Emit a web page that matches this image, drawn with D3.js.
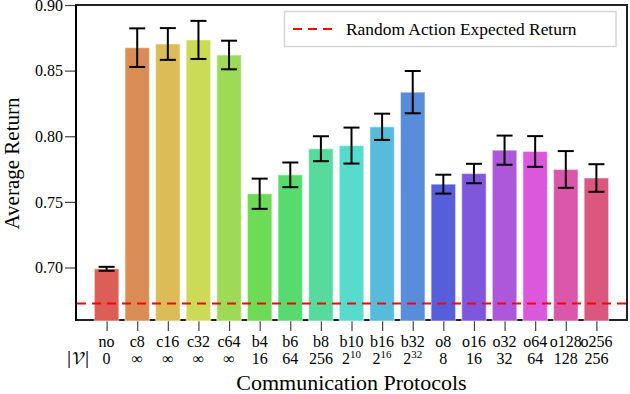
<!DOCTYPE html>
<html><head><meta charset="utf-8">
<script src="https://cdn.jsdelivr.net/npm/d3@7"></script>
<style>body{margin:0;background:#fff}svg{display:block}text{font-family:"Liberation Serif","Times New Roman",serif;fill:#000}</style>
</head><body><svg id="c" width="630" height="394"></svg>
<script>
const categories = ["no","c8","c16","c32","c64","b4","b6","b8","b10","b16","b32","o8","o16","o32","o64","o128","o256"];
const vocab = [["0"],["∞"],["∞"],["∞"],["∞"],["16"],["64"],["256"],["2","10"],["2","16"],["2","32"],["8"],["16"],["32"],["64"],["128"],["256"]];
const means = [0.699,0.8675,0.8703,0.8734,0.8619,0.7562,0.7706,0.7905,0.7929,0.8072,0.8336,0.7635,0.7716,0.7894,0.7884,0.7747,0.7682];
const errs  = [0.0015,0.0147,0.0121,0.0145,0.0109,0.0115,0.0094,0.0095,0.0137,0.0100,0.0161,0.0072,0.0074,0.0111,0.0117,0.0140,0.0105];
const randomReturn = 0.6725;
const yTicks = [0.70,0.75,0.80,0.85,0.90];

const svg = d3.select("#c");
const L=76,R=627,T=5,B=320;
const x = d3.scalePoint().domain(categories).range([L,R]).padding(1);
const y = d3.scaleLinear().domain([0.66,0.90]).range([B,T]);
const step = x.step(), bw = step*0.8;
const color = i => d3.hsl(((0.01 + i/categories.length)%1)*360, 0.65, 0.6).formatHex();

// y axis
const ya = svg.append("g").attr("transform",`translate(${L},0)`)
  .call(d3.axisLeft(y).tickValues(yTicks).tickFormat(d3.format(".2f")).tickSize(11).tickPadding(2));
ya.select(".domain").remove();
ya.selectAll(".tick line").attr("stroke","#444").attr("stroke-width",1.2);
ya.selectAll(".tick text").attr("font-family",null).style("font-family","'Liberation Serif'").style("font-size","16px");

// x axis ticks
const xa = svg.append("g").attr("transform",`translate(0,${B})`)
  .call(d3.axisBottom(x).tickSize(11).tickFormat(""));
xa.select(".domain").remove();
xa.selectAll(".tick line").attr("stroke","#444").attr("stroke-width",1.2);

// frame
svg.append("rect").attr("x",L).attr("y",T).attr("width",R-L).attr("height",B-T)
  .attr("fill","none").attr("stroke","#222").attr("stroke-width",2);
svg.append("line").attr("x1",L).attr("x2",L).attr("y1",T).attr("y2",B+1).attr("stroke","#000").attr("stroke-width",2);

// bars
svg.append("g").selectAll("rect").data(categories).join("rect")
  .attr("x",d=>x(d)-bw/2).attr("width",bw)
  .attr("y",(d,i)=>y(means[i])).attr("height",(d,i)=>B+1-y(means[i]))
  .attr("fill",(d,i)=>color(i)).attr("stroke","#fff").attr("stroke-opacity",0.45).attr("stroke-width",1.2);

// error bars
const eb = svg.append("g").attr("stroke","#000").attr("stroke-width",2);
categories.forEach((d,i)=>{
  const cx=x(d), hi=y(means[i]+errs[i]), lo=y(means[i]-errs[i]);
  eb.append("line").attr("x1",cx).attr("x2",cx).attr("y1",hi).attr("y2",lo);
  eb.append("line").attr("x1",cx-8).attr("x2",cx+8).attr("y1",hi).attr("y2",hi);
  eb.append("line").attr("x1",cx-8).attr("x2",cx+8).attr("y1",lo).attr("y2",lo);
});

// random line
svg.append("line").attr("x1",L+1).attr("x2",R-1).attr("y1",y(randomReturn)).attr("y2",y(randomReturn))
  .attr("stroke","#ff0000").attr("stroke-width",2).attr("stroke-dasharray","9,6");

// x tick labels
const lab = svg.append("g").style("font-size","16px").attr("text-anchor","middle");
categories.forEach((d,i)=>{
  lab.append("text").attr("x",x(d)).attr("y",346.5).text(d);
  const t = lab.append("text").attr("x",x(d)).attr("y",364);
  t.append("tspan").text(vocab[i][0]);
  if(vocab[i].length>1) t.append("tspan").attr("dy",-6).style("font-size","11px").text(vocab[i][1]);
});
svg.append("text").attr("x",78).attr("y",364).attr("text-anchor","middle")
  .style("font-family","'STIX Two Math'").style("font-size","19px").text("|𝒱|");

// legend
svg.append("rect").attr("x",284.5).attr("y",11.5).attr("width",331.5).attr("height",35)
  .attr("fill","#fff").attr("fill-opacity",0.8).attr("stroke","#d6d6d6").attr("stroke-width",1.5);
svg.append("line").attr("x1",293).attr("x2",335).attr("y1",29).attr("y2",29)
  .attr("stroke","#ff0000").attr("stroke-width",2).attr("stroke-dasharray","9,6");
svg.append("text").attr("x",346).attr("y",35).style("font-size","17.4px").text("Random Action Expected Return");

// titles
svg.append("text").attr("transform",`translate(19,${(T+B)/2+1}) rotate(-90)`).attr("text-anchor","middle")
  .style("font-size","21px").text("Average Return");
svg.append("text").attr("x",(L+R)/2).attr("y",390).attr("text-anchor","middle")
  .style("font-size","22px").text("Communication Protocols");
</script></body></html>
